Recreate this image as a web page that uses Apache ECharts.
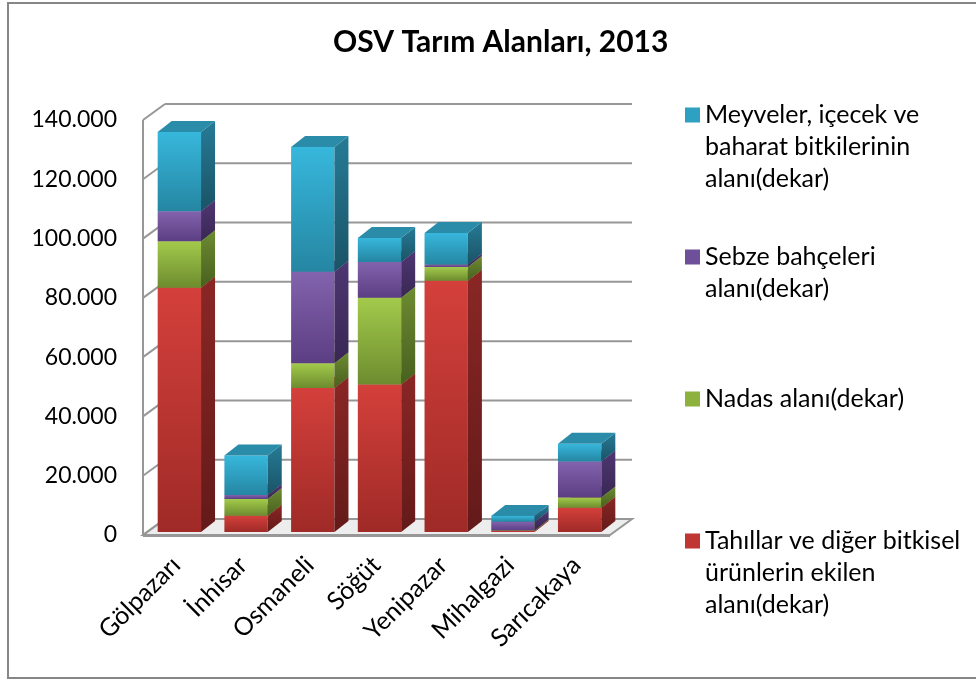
<!DOCTYPE html>
<html>
<head>
<meta charset="utf-8">
<script src="https://cdn.jsdelivr.net/npm/echarts@6/dist/echarts.min.js"></script>
<style>
  html, body { margin: 0; padding: 0; background: #fff; }
  #chart { width: 976px; height: 680px; }
</style>
</head>
<body>
<div id="chart"></div>
<script>
// data (dekar)
const categories = ['Gölpazarı', 'İnhisar', 'Osmaneli', 'Söğüt', 'Yenipazar', 'Mihalgazi', 'Sarıcakaya'];
const tahillar = [82400, 5500, 48600, 49800, 84800, 300, 8200];
const nadas = [15700, 5600, 8300, 29200, 4600, 200, 3400];
const sebze = [10100, 1400, 30900, 12100, 800, 3000, 12200];
const meyveler = [26700, 13300, 42100, 8100, 10700, 1900, 6000];
const yTicks = [0, 20000, 40000, 60000, 80000, 100000, 120000, 140000];

const seriesNames = [
  'Tahıllar ve diğer bitkisel\nürünlerin ekilen\nalanı(dekar)',
  'Nadas alanı(dekar)',
  'Sebze bahçeleri\nalanı(dekar)',
  'Meyveler, içecek ve\nbaharat bitkilerinin\nalanı(dekar)'
];
const layers = [tahillar, nadas, sebze, meyveler];

const palette = [
  {front: ['#d4403b', '#9f2a27'], side: ['#8a2725', '#631a19'], top: '#b5322f', key: '#c03633'},
  {front: ['#a3ca4b', '#6d8c2f'], side: ['#6d8b31', '#48601f'], top: '#87a93b', key: '#8cb13d'},
  {front: ['#8263ad', '#5c3e83'], side: ['#4f3772', '#382753'], top: '#6a4d93', key: '#6e509a'},
  {front: ['#37b7dc', '#2586a2'], side: ['#267b96', '#1a5366'], top: '#2a8ca8', key: '#2ea0c2'}
];

// 3D look
const DX = 22, DY = -16;      // depth of the walls / floor
const OX = 3, OY = -3;        // bars sit slightly behind the front edge
const BDX = 14, BDY = -11;    // depth of a bar
const BAR_RATIO = 0.65;
const wallColor = '#979797';
const font = 'Lato, "Open Sans", sans-serif';

function grad(c) {
  return new echarts.graphic.LinearGradient(0, 0, 0, 1, [
    {offset: 0, color: c[0]}, {offset: 1, color: c[1]}
  ]);
}

function renderWalls(params, api) {
  const cs = params.coordSys;
  const v = api.value(1);
  const y = api.coord([0, v])[1];
  const x0 = cs.x, x1 = cs.x + cs.width;
  const ls = {stroke: wallColor, lineWidth: 2};
  const children = [
    {type: 'line', shape: {x1: x0, y1: y, x2: x0 + DX, y2: y + DY}, style: ls},
    {type: 'line', shape: {x1: x0 + DX, y1: y + DY, x2: x1 + DX, y2: y + DY}, style: ls}
  ];
  if (v === 0) {
    children.unshift({
      type: 'polygon',
      shape: {points: [[x0, y], [x1, y], [x1 + DX, y + DY], [x0 + DX, y + DY]]},
      style: {fill: '#ededed', stroke: wallColor, lineWidth: 2}
    });
    children.push({type: 'line', shape: {x1: x0, y1: y + 1, x2: x0, y2: cs.y}, style: ls});
    children.push({type: 'line', shape: {x1: x0, y1: y + 1, x2: x1, y2: y + 1}, style: ls});
  }
  return {type: 'group', children};
}

function boxRenderer(c) {
  return function (params, api) {
    const xi = api.value(0);
    const lo = api.value(1), hi = api.value(2);
    if (hi <= lo) return;
    const pb = api.coord([xi, lo]);
    const pt = api.coord([xi, hi]);
    const w = api.size([1, 0])[0] * BAR_RATIO;
    const L = pb[0] - w / 2 + OX, R = L + w;
    const B = pb[1] + OY, T = pt[1] + OY;
    return {
      type: 'group',
      children: [
        {type: 'rect', shape: {x: L, y: T, width: w, height: B - T}, style: {fill: grad(c.front)}},
        {type: 'polygon', shape: {points: [[R, B], [R, T], [R + BDX, T + BDY], [R + BDX, B + BDY]]},
          style: {fill: grad(c.side)}},
        {type: 'polygon', shape: {points: [[L, T], [R, T], [R + BDX, T + BDY], [L + BDX, T + BDY]]},
          style: {fill: c.top}}
      ]
    };
  };
}

// stacked extents
const base = categories.map(() => 0);
const barSeries = layers.map((vals, k) => {
  const data = categories.map((_, i) => {
    const item = [i, base[i], base[i] + vals[i]];
    base[i] += vals[i];
    return item;
  });
  return {
    type: 'custom',
    name: seriesNames[k],
    renderItem: boxRenderer(palette[k]),
    encode: {x: 0, y: [1, 2]},
    itemStyle: {color: palette[k].key},
    data: data,
    z: 3
  };
});

// legend: one block per series; the key square sits beside the first text line
const LH = 32;
const legendRows = [
  {k: 3, yc: 115},
  {k: 2, yc: 257},
  {k: 1, yc: 399},
  {k: 0, yc: 541}
];
const legends = legendRows.map(r => {
  const lines = seriesNames[r.k].split('\n').length;
  const h = lines * LH;
  // square near the top of a box as tall as the text block
  const icon = 'path://M0,8.5H15V23.5H0Z M0,0L0.01,0 M0,' + (h - 0.01) + 'L0.01,' + h;
  return {
    orient: 'vertical',
    left: 685,
    top: r.yc - LH / 2,
    padding: 0,
    itemWidth: 15,
    itemHeight: h,
    icon: icon,
    selectedMode: false,
    data: [seriesNames[r.k]],
    textStyle: {fontFamily: font, fontSize: 25, color: '#000', lineHeight: LH}
  };
});

const chart = echarts.init(document.getElementById('chart'));
chart.setOption({
  animation: false,
  backgroundColor: '#fff',
  title: {
    text: 'OSV Tarım Alanları, 2013',
    left: 333,
    top: 27,
    padding: 0,
    textStyle: {fontFamily: font, fontSize: 30, fontWeight: 'bold', color: '#000'}
  },
  legend: legends,
  graphic: [{
    type: 'rect',
    shape: {x: 8, y: 3, width: 1000, height: 675},
    style: {fill: 'none', stroke: '#868686', lineWidth: 2},
    silent: true,
    z: -10
  }],
  grid: {left: 143, right: 366, top: 120, bottom: 145},
  xAxis: {
    type: 'category',
    data: categories,
    axisLine: {show: false},
    axisTick: {show: false},
    axisLabel: {rotate: 45, margin: 26, interval: 0, fontFamily: font, fontSize: 25, color: '#000'}
  },
  yAxis: {
    type: 'value',
    min: 0,
    max: 140000,
    interval: 20000,
    axisLine: {show: false},
    axisTick: {show: false},
    splitLine: {show: false},
    axisLabel: {
      margin: 26, fontFamily: font, fontSize: 23, color: '#000',
      formatter: v => String(v).replace(/\B(?=(\d{3})+(?!\d))/g, '.')
    }
  },
  series: [{
    type: 'custom',
    name: 'walls',
    silent: true,
    renderItem: renderWalls,
    encode: {x: 0, y: 1},
    data: yTicks.map(v => [0, v]),
    z: 1
  }].concat(barSeries)
});
</script>
</body>
</html>
